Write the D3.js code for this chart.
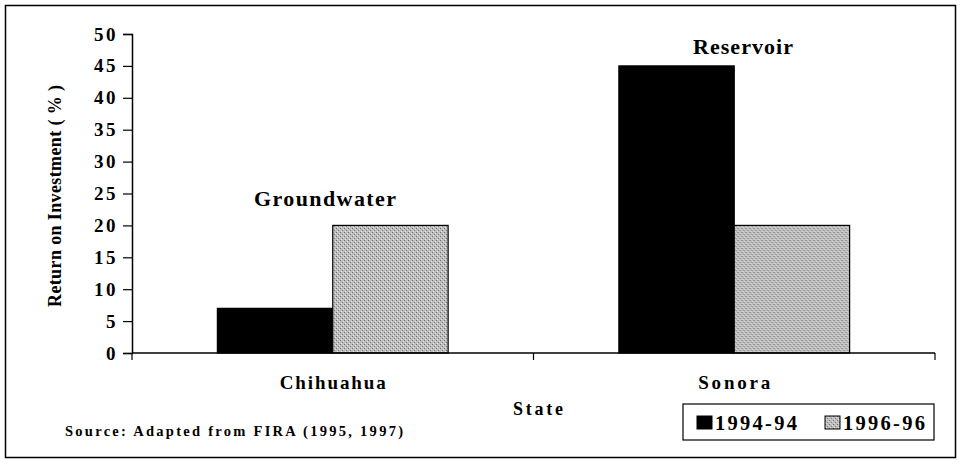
<!DOCTYPE html>
<html>
<head>
<meta charset="utf-8">
<script src="https://cdn.jsdelivr.net/npm/d3@7"></script>
<style>
  body { margin: 0; background: #fff; }
  svg { display: block; }
</style>
</head>
<body>
<svg id="chart"></svg>
<script>
// chart data
const states = ['Chihuahua', 'Sonora'];
const periods = ['1994-94', '1996-96'];
const values1994 = [7, 45];
const values1996 = [20, 20];
const sourceLabels = ['Groundwater', 'Reservoir'];
const yTicks = [0, 5, 10, 15, 20, 25, 30, 35, 40, 45, 50];

const FONT = "'Liberation Serif', 'Times New Roman', Times, serif";

const width = 960;
const height = 461;
const margin = { top: 34, left: 132 };
const plotW = 803;
const y0 = 353;

const svg = d3.select('#chart')
    .attr('width', width)
    .attr('height', height)
    .attr('font-family', FONT)
    .attr('font-weight', 'bold');

// spread the letters of a text so it spans the given width (old printed look)
function spread(sel, w) {
    sel.each(function () {
        const t = d3.select(this);
        const n = this.textContent.length;
        const s = (w - this.getComputedTextLength()) / (n - 1);
        t.style('letter-spacing', s + 'px');
        if (t.attr('text-anchor') === 'middle') t.attr('dx', s / 2);
    });
}

// pattern for the grey bars
const defs = svg.append('defs');
const pat = defs.append('pattern')
    .attr('id', 'grey')
    .attr('width', 4)
    .attr('height', 4)
    .attr('patternUnits', 'userSpaceOnUse');
pat.append('rect').attr('width', 4).attr('height', 4).attr('fill', '#bdbdbd');
pat.append('rect').attr('x', 0).attr('y', 0).attr('width', 1).attr('height', 1).attr('fill', '#6e6e6e');
pat.append('rect').attr('x', 2).attr('y', 2).attr('width', 1).attr('height', 1).attr('fill', '#7a7a7a');
pat.append('rect').attr('x', 1).attr('y', 3).attr('width', 1).attr('height', 1).attr('fill', '#e6e6e6');
pat.append('rect').attr('x', 3).attr('y', 1).attr('width', 1).attr('height', 1).attr('fill', '#e0e0e0');

const colors = ['#000', 'url(#grey)'];

// outer frame
svg.append('rect')
    .attr('x', 5.5).attr('y', 5.5)
    .attr('width', 950).attr('height', 452)
    .attr('fill', 'none')
    .attr('stroke', '#000')
    .attr('stroke-width', 1.5);

const x = d3.scaleBand()
    .domain(states)
    .range([margin.left, margin.left + plotW]);

const xInner = d3.scaleBand()
    .domain(periods)
    .range([0, x.bandwidth()])
    .paddingOuter(0.74)
    .paddingInner(0);

const y = d3.scaleLinear()
    .domain([0, 50])
    .range([y0, margin.top]);

// bars
const rows = states.map((s, i) => ({ state: s, vals: [values1994[i], values1996[i]] }));

const groups = svg.append('g')
    .selectAll('g')
    .data(rows)
    .join('g')
    .attr('transform', d => `translate(${x(d.state)},0)`);

groups.selectAll('rect')
    .data(d => d.vals.map((v, j) => ({ period: periods[j], value: v, j })))
    .join('rect')
    .attr('x', d => xInner(d.period))
    .attr('y', d => y(d.value))
    .attr('width', xInner.bandwidth())
    .attr('height', d => y0 - y(d.value))
    .attr('fill', d => colors[d.j])
    .attr('stroke', '#000')
    .attr('stroke-width', 1.2);

// y axis
const yAxis = svg.append('g')
    .attr('transform', `translate(${margin.left},0)`)
    .call(d3.axisLeft(y).tickValues(yTicks).tickSize(9).tickPadding(5));
yAxis.attr('font-family', FONT).attr('font-size', 19);
yAxis.select('.domain').attr('stroke-width', 1.5);
yAxis.selectAll('.tick line').attr('stroke-width', 1.2);
yAxis.selectAll('text')
    .attr('font-weight', 'bold')
    .style('letter-spacing', '2.5px');

// x axis: ticks at the category boundaries
svg.append('line')
    .attr('x1', margin.left).attr('x2', margin.left + plotW)
    .attr('y1', y0).attr('y2', y0)
    .attr('stroke', '#000').attr('stroke-width', 1.5);

svg.append('g')
    .selectAll('line')
    .data([...states.map(s => x(s)), x(states[1]) + x.bandwidth()])
    .join('line')
    .attr('x1', d => d).attr('x2', d => d)
    .attr('y1', y0).attr('y2', y0 + 7)
    .attr('stroke', '#000').attr('stroke-width', 1.2);

const stateWidths = [106, 72];
svg.append('g')
    .selectAll('text')
    .data(states)
    .join('text')
    .attr('x', d => x(d) + x.bandwidth() / 2)
    .attr('y', 389)
    .attr('text-anchor', 'middle')
    .attr('font-size', 19)
    .text(d => d)
    .each(function (d, i) { spread(d3.select(this), stateWidths[i]); });

// labels above the groups
const labelWidths = [142, 100];
const labelX = [325, 743];
svg.append('g')
    .selectAll('text')
    .data(sourceLabels)
    .join('text')
    .attr('x', (d, i) => labelX[i])
    .attr('y', (d, i) => y(Math.max(values1994[i], values1996[i])) - (i === 0 ? 19 : 12))
    .attr('text-anchor', 'middle')
    .attr('font-size', 22)
    .text(d => d)
    .each(function (d, i) { spread(d3.select(this), labelWidths[i]); });

// axis titles
svg.append('text')
    .attr('transform', `translate(61,196) rotate(-90)`)
    .attr('text-anchor', 'middle')
    .attr('font-size', 18)
    .text('Return on Investment ( % )')
    .call(spread, 222);

svg.append('text')
    .attr('x', 538)
    .attr('y', 415)
    .attr('text-anchor', 'middle')
    .attr('font-size', 18)
    .text('State')
    .call(spread, 50);

svg.append('text')
    .attr('x', 65)
    .attr('y', 436)
    .attr('font-size', 14.5)
    .text('Source: Adapted from FIRA (1995, 1997)')
    .call(spread, 338);

// legend
const legend = svg.append('g').attr('transform', 'translate(683,404)');
legend.append('rect')
    .attr('width', 251).attr('height', 36)
    .attr('fill', '#fff')
    .attr('stroke', '#000')
    .attr('stroke-width', 1.2);

const items = legend.selectAll('g')
    .data(periods)
    .join('g')
    .attr('transform', (d, i) => `translate(${14 + i * 128},0)`);
items.append('rect')
    .attr('y', 12).attr('width', 15).attr('height', 13)
    .attr('fill', (d, i) => colors[i])
    .attr('stroke', '#000')
    .attr('stroke-width', 1);
items.append('text')
    .attr('x', 18).attr('y', 26)
    .attr('font-size', 20.5)
    .text(d => d)
    .call(spread, 82);
</script>
</body>
</html>
